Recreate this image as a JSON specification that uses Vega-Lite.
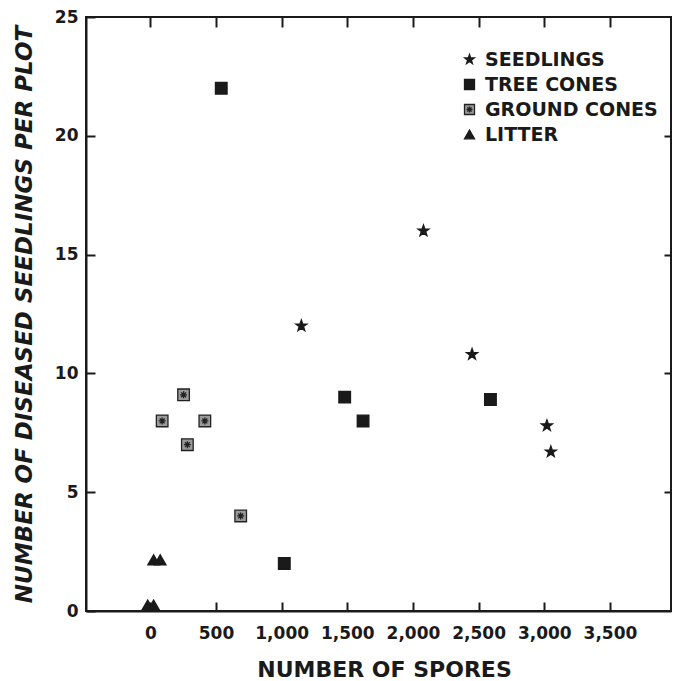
{
  "$schema": "https://vega.github.io/schema/vega-lite/v6.json",
  "width": 585,
  "height": 594,
  "autosize": "none",
  "padding": {"left": 86, "top": 17, "right": 2, "bottom": 70},
  "background": "white",
  "config": {
    "view": {"stroke": "#1a1a1a", "strokeWidth": 2},
    "axis": {"grid": false, "domainColor": "#1a1a1a", "domainWidth": 2, "tickColor": "#1a1a1a", "tickWidth": 2,
      "labelFont": "DejaVu Sans", "labelFontWeight": "bold", "labelColor": "#1a1a1a", "labelFontSize": 17,
      "titleFont": "DejaVu Sans", "titleFontWeight": "bold", "titleColor": "#1a1a1a"},
    "legend": {"orient": "none", "legendX": 374, "legendY": 33, "padding": 0, "title": null,
      "labelFont": "DejaVu Sans", "labelFontWeight": "bold", "labelFontSize": 19, "labelColor": "#1a1a1a",
      "labelOffset": 6, "labelLimit": 400, "rowPadding": 5, "symbolSize": 100, "symbolStrokeWidth": 1.3}
  },
  "data": {"values": [
    {"type": "SEEDLINGS", "spores": 1150, "diseased": 12},
    {"type": "SEEDLINGS", "spores": 2080, "diseased": 16},
    {"type": "SEEDLINGS", "spores": 2450, "diseased": 10.8},
    {"type": "SEEDLINGS", "spores": 3020, "diseased": 7.8},
    {"type": "SEEDLINGS", "spores": 3050, "diseased": 6.7},
    {"type": "TREE CONES", "spores": 540, "diseased": 22},
    {"type": "TREE CONES", "spores": 1020, "diseased": 2},
    {"type": "TREE CONES", "spores": 1480, "diseased": 9},
    {"type": "TREE CONES", "spores": 1620, "diseased": 8},
    {"type": "TREE CONES", "spores": 2590, "diseased": 8.9},
    {"type": "GROUND CONES", "spores": 90, "diseased": 8},
    {"type": "GROUND CONES", "spores": 253, "diseased": 9.1},
    {"type": "GROUND CONES", "spores": 415, "diseased": 8},
    {"type": "GROUND CONES", "spores": 282, "diseased": 7},
    {"type": "GROUND CONES", "spores": 688, "diseased": 4},
    {"type": "LITTER", "spores": 25, "diseased": 2.15},
    {"type": "LITTER", "spores": 75, "diseased": 2.15},
    {"type": "LITTER", "spores": -20, "diseased": 0.25},
    {"type": "LITTER", "spores": 25, "diseased": 0.25}
  ]},
  "layer": [
    {
      "mark": {"type": "point", "opacity": 0},
      "encoding": {
        "x": {"field": "spores", "type": "quantitative", "scale": {"domain": [-490, 3965], "nice": false, "zero": false},
          "axis": {"orient": "top", "values": [0, 500, 1000, 1500, 2000, 2500, 3000, 3500], "labels": false, "domain": false, "tickSize": -10, "title": null}},
        "y": {"field": "diseased", "type": "quantitative", "scale": {"domain": [0, 25], "nice": false},
          "axis": {"orient": "right", "values": [5, 10, 15, 20], "labels": false, "domain": false, "tickSize": -7, "title": null}}
      }
    },
    {
      "mark": {"type": "point", "filled": true, "size": 135, "strokeWidth": 1.3, "opacity": 1},
      "encoding": {
        "x": {"field": "spores", "type": "quantitative",
          "axis": {"orient": "bottom", "values": [0, 500, 1000, 1500, 2000, 2500, 3000, 3500], "format": ",.0f", "tickSize": -9, "labelPadding": 23,
            "title": "NUMBER OF SPORES", "titleFontSize": 22, "titlePadding": 18, "titleX": 298}},
        "y": {"field": "diseased", "type": "quantitative",
          "axis": {"orient": "left", "values": [0, 5, 10, 15, 20, 25], "tickSize": -9, "labelPadding": 17,
            "title": "NUMBER OF DISEASED SEEDLINGS PER PLOT", "titleFontSize": 23, "titleFontStyle": "italic", "titlePadding": 18}},
        "shape": {"field": "type", "type": "nominal",
          "scale": {"domain": ["SEEDLINGS", "TREE CONES", "GROUND CONES", "LITTER"],
            "range": ["M0,-1L0.235,-0.324L0.951,-0.309L0.38,0.124L0.588,0.809L0,0.4L-0.588,0.809L-0.38,0.124L-0.951,-0.309L-0.235,-0.324Z", "square", "M-1,-1L1,-1L1,1L-1,1Z M-0.6,0L0.6,0 M0,-0.6L0,0.6 M-0.42,-0.42L0.42,0.42 M-0.42,0.42L0.42,-0.42", "triangle-up"]}},
        "fill": {"field": "type", "type": "nominal",
          "scale": {"domain": ["SEEDLINGS", "TREE CONES", "GROUND CONES", "LITTER"], "range": ["#1a1a1a", "#1a1a1a", "#9a9a9a", "#1a1a1a"]}},
        "stroke": {"field": "type", "type": "nominal",
          "scale": {"domain": ["SEEDLINGS", "TREE CONES", "GROUND CONES", "LITTER"], "range": ["#1a1a1a", "#1a1a1a", "#222222", "#1a1a1a"]}}
      }
    }
  ],
  "resolve": {"axis": {"x": "independent", "y": "independent"}}
}
